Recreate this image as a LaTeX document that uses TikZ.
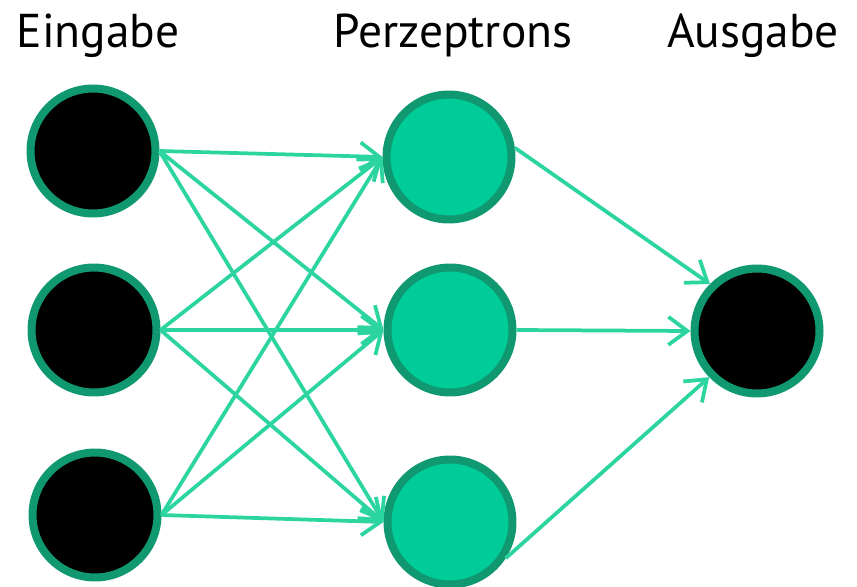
\documentclass[tikz,border=0pt]{standalone}
\usepackage{fontspec}
\setmainfont{PT Sans}
\usepackage{tikz}
\usetikzlibrary{arrows.meta}

\definecolor{rim}{RGB}{16,152,112}
\definecolor{mint}{RGB}{0,204,153}
\definecolor{wire}{RGB}{44,212,160}

\begin{document}
\begin{tikzpicture}[x=0.02cm,y=-0.02cm,
	-{Straight Barb[length=0.38cm,width=0.56cm]},
	main node/.style={circle,draw=rim,line width=0.16cm,minimum size=2.5cm,inner sep=0pt},
	in node/.style={main node,fill=black},
	hid node/.style={main node,fill=mint},
	wire/.style={draw=wire,line width=0.075cm},
	head/.style={anchor=base,font=\fontsize{27}{30}\selectfont}]
	
	\useasboundingbox (0,0) rectangle (857,587);
	
	\node[head] (t1) at (98,48) {Eingabe};
	\node[head] (t2) at (453,48) {Perzeptrons};
	\node[head] (t3) at (753,48) {Ausgabe};
	
	\node[in node] (i1) at (93,151) {};
	\node[in node] (i2) at (94,330) {};
	\node[in node] (i3) at (95,515) {};
	
	\node[hid node] (h1) at (449,157) {};
	\node[hid node] (h2) at (450,330) {};
	\node[hid node] (h3) at (450,522) {};
	
	\node[in node] (o) at (757,331) {};
	
	\path (i1.east) edge[wire] (h1.west);
	\path (i1.east) edge[wire] (h2.west);
	\path (i1.east) edge[wire] (h3.west);
	\path (i2.east) edge[wire] (h1.west);
	\path (i2.east) edge[wire] (h2.west);
	\path (i2.east) edge[wire] (h3.west);
	\path (i3.east) edge[wire] (h1.west);
	\path (i3.east) edge[wire] (h2.west);
	\path (i3.east) edge[wire] (h3.west);
	
	\path (h1.8) edge[wire] (o.135);
	\path (h2.east) edge[wire] (o.west);
	\path (h3.-33) edge[wire] (o.-136);
\end{tikzpicture}
\end{document}
